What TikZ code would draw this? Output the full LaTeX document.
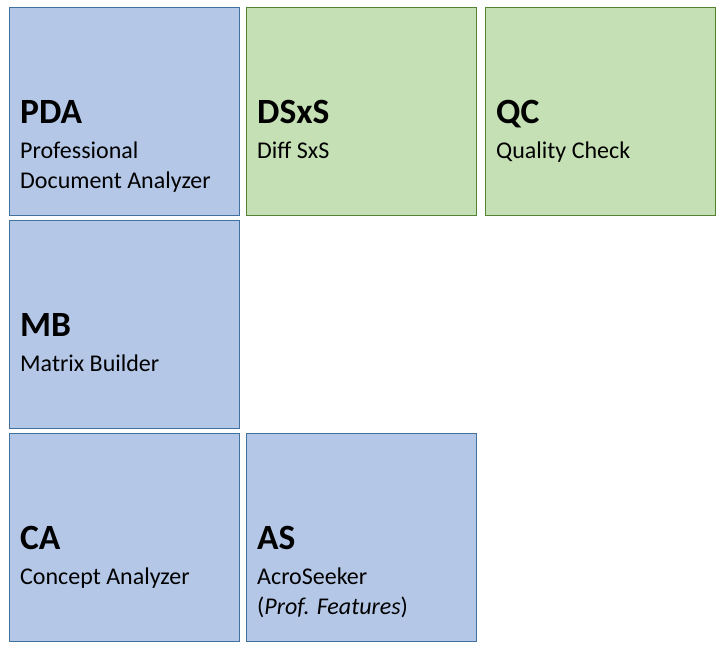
\documentclass[tikz,border=0pt]{standalone}
\usepackage{fontspec}
\setmainfont{Carlito}
\usetikzlibrary{positioning}
\definecolor{tile-blue}{RGB}{180,199,231}
\definecolor{tile-blue-line}{RGB}{65,113,156}
\definecolor{tile-green}{RGB}{197,224,180}
\definecolor{tile-green-line}{RGB}{84,130,53}
\tikzset{
  tile/.style = {
    rectangle,
    minimum width=230pt,
    minimum height=208pt,
    line width=1pt,
    inner sep=0pt
  },
  bluetile/.append style = {tile, fill = tile-blue, draw = tile-blue-line},
  greentile/.append style = {tile, fill = tile-green, draw = tile-green-line},
  tiletitle/.append style = {anchor=base west, inner sep=0pt,
    font=\fontsize{35.5}{40}\selectfont\bfseries},
  % base of a two-line text is its last line
  tiletext/.append style = {anchor=base west, inner sep=0pt, align=left,
    font=\fontsize{24}{30}\selectfont}
}
\begin{document}
\begin{tikzpicture}
\useasboundingbox (0,0) rectangle (727pt,-651pt);

% tiles
\node[bluetile, anchor=north west] (pda) at (9pt,-7pt) {};
\node[greentile, right=6pt of pda] (dsxs) {};
\node[greentile, right=8pt of dsxs] (qc) {};
\node[bluetile, below=4pt of pda] (mb) {};
\node[bluetile, below=4pt of mb] (ca) {};
\node[bluetile, right=6pt of ca] (as) {};

% titles and subtitles
\node[tiletitle] (pda-title) at ([shift={(11pt,-116pt)}]pda.north west) {PDA};
\node[tiletext] (pda-text) at ([shift={(11pt,-181pt)}]pda.north west) {Professional\\Document Analyzer};

\node[tiletitle] (dsxs-title) at ([shift={(11pt,-116pt)}]dsxs.north west) {DSxS};
\node[tiletext] (dsxs-text) at ([shift={(11pt,-151pt)}]dsxs.north west) {Diff SxS};

\node[tiletitle] (qc-title) at ([shift={(11pt,-116pt)}]qc.north west) {QC};
\node[tiletext] (qc-text) at ([shift={(11pt,-151pt)}]qc.north west) {Quality Check};

\node[tiletitle] (mb-title) at ([shift={(11pt,-116pt)}]mb.north west) {MB};
\node[tiletext] (mb-text) at ([shift={(11pt,-151pt)}]mb.north west) {Matrix Builder};

\node[tiletitle] (ca-title) at ([shift={(11pt,-116pt)}]ca.north west) {CA};
\node[tiletext] (ca-text) at ([shift={(11pt,-151pt)}]ca.north west) {Concept Analyzer};

\node[tiletitle] (as-title) at ([shift={(11pt,-116pt)}]as.north west) {AS};
\node[tiletext] (as-text) at ([shift={(11pt,-181pt)}]as.north west) {AcroSeeker\\(\textit{Prof. Features})};
\end{tikzpicture}
\end{document}
